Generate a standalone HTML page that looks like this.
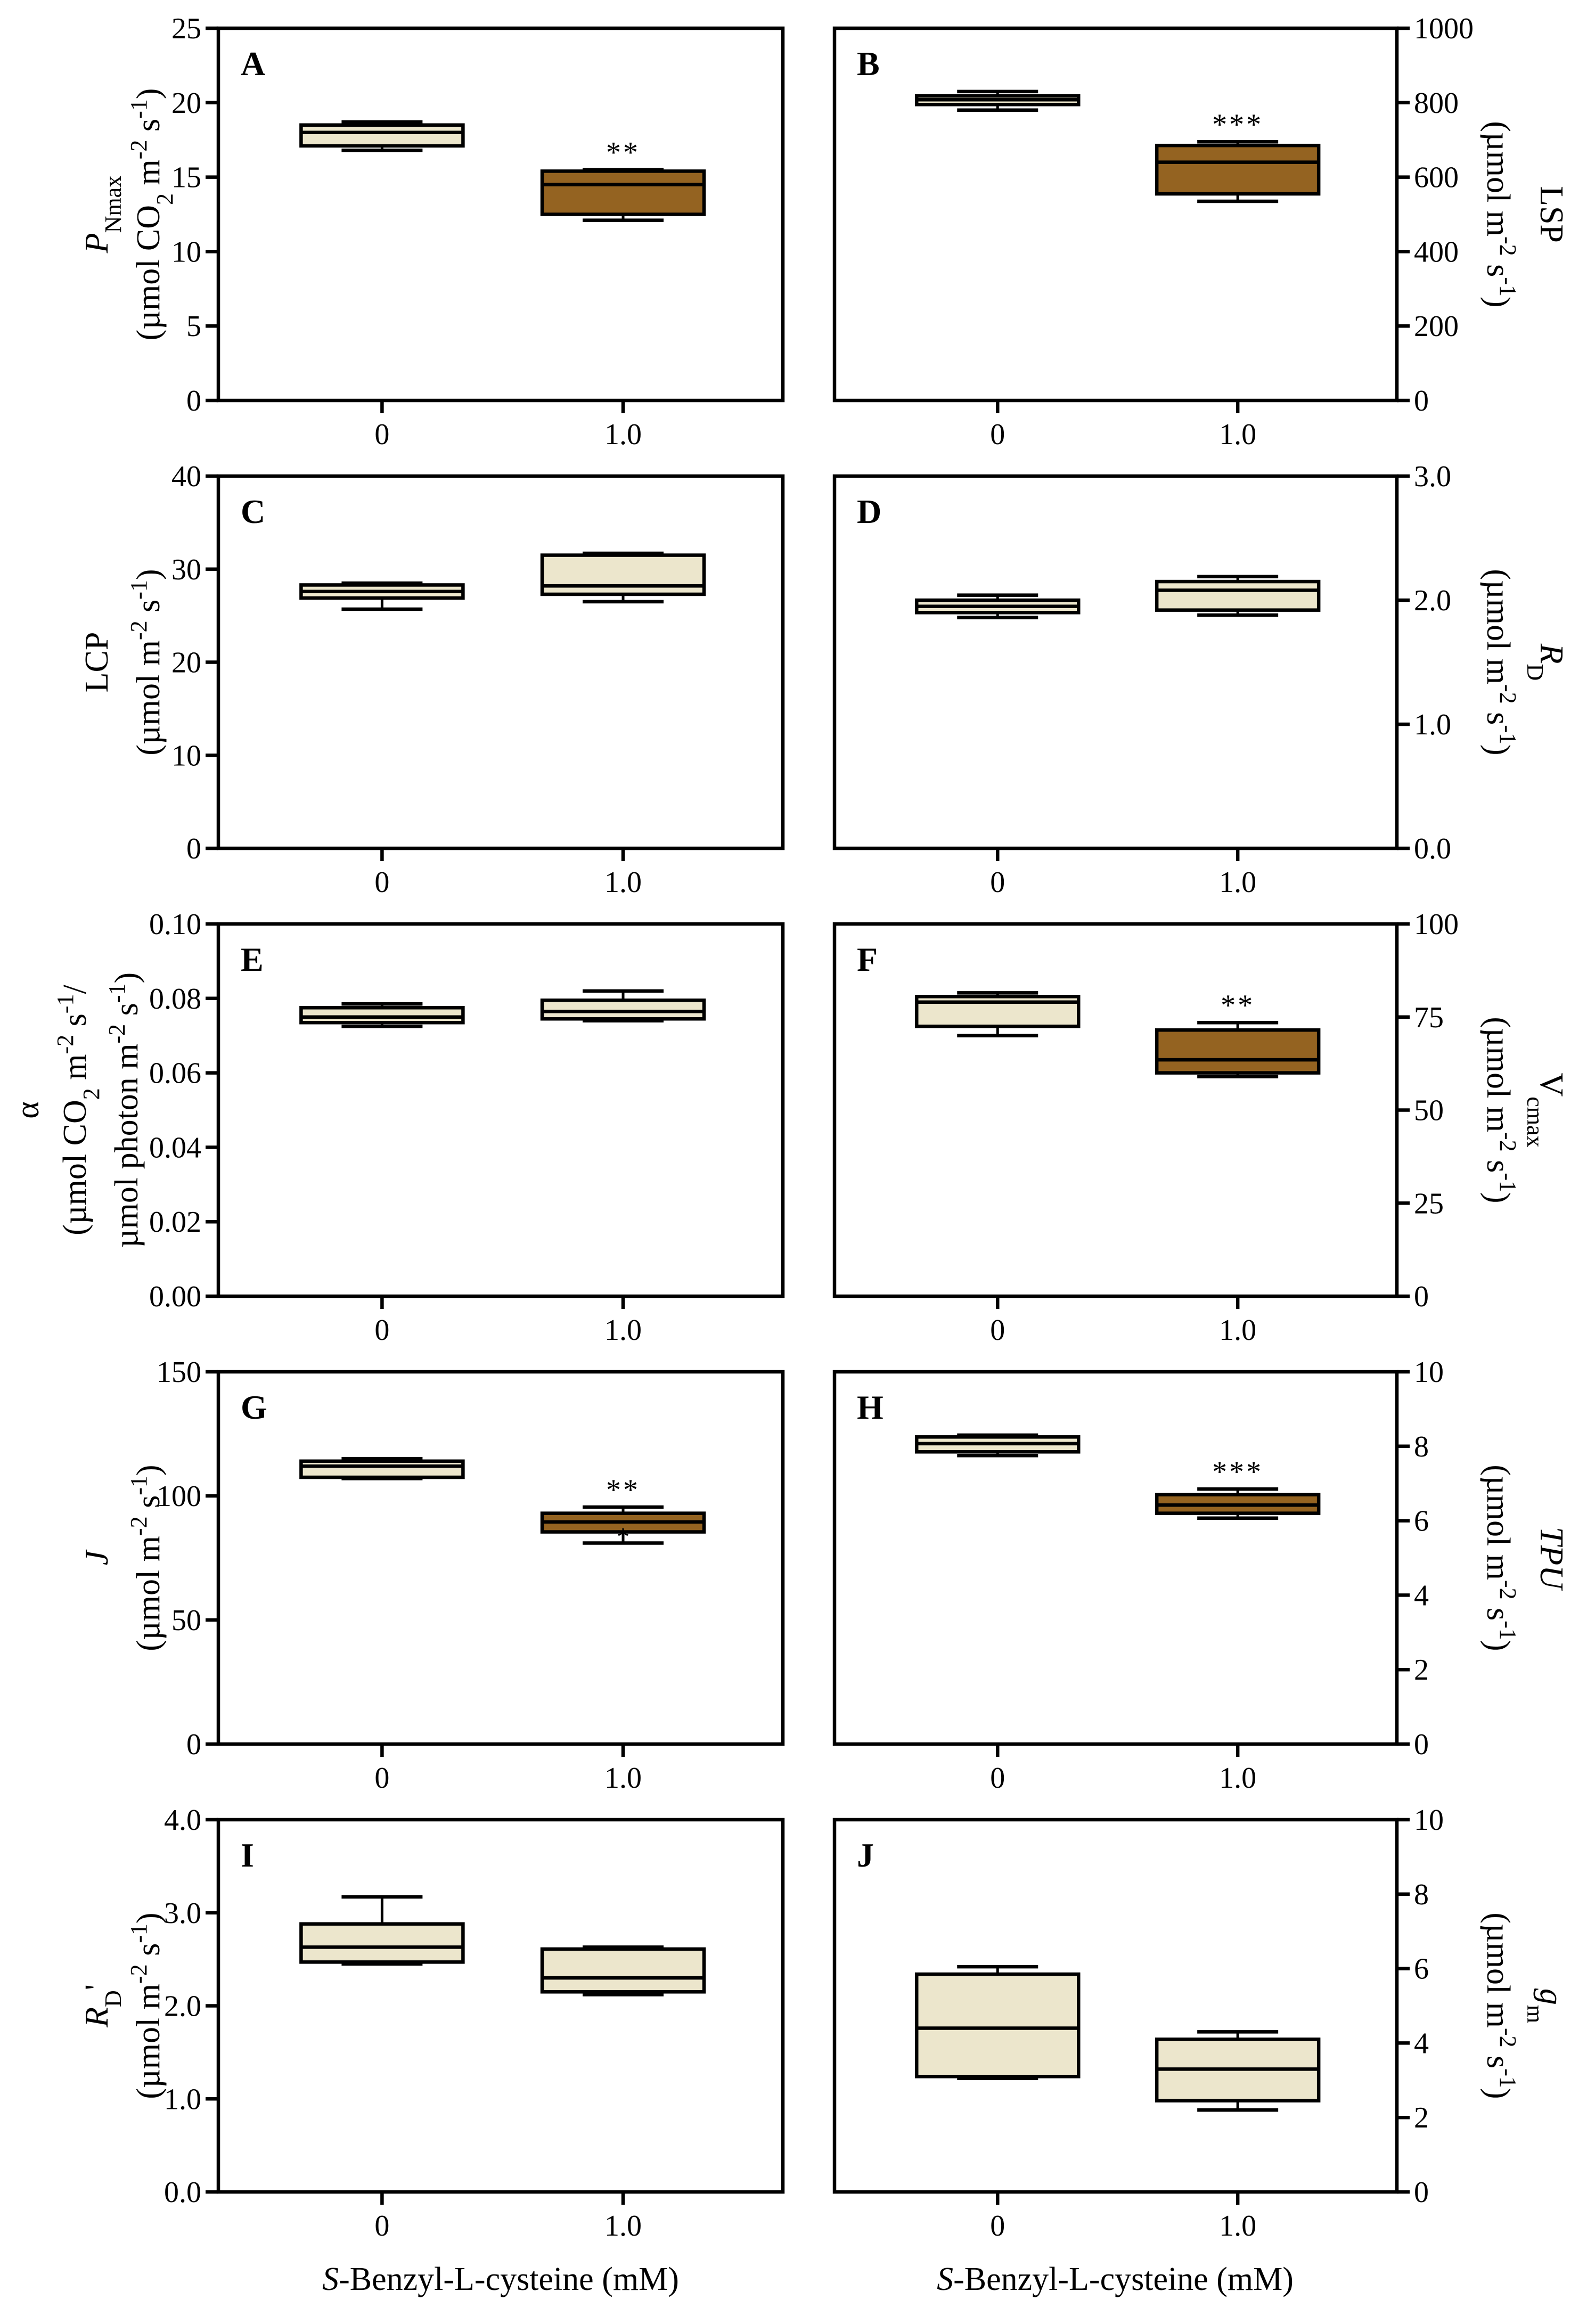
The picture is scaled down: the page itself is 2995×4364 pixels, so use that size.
<!DOCTYPE html>
<html><head><meta charset="utf-8">
<style>
html,body{margin:0;padding:0;background:#fff;}
svg{display:block;font-family:"Liberation Serif",serif;}
</style></head>
<body>
<svg id="fig" width="2995" height="4364" viewBox="0 0 2995 4364" xmlns="http://www.w3.org/2000/svg"></svg>
<script>
// ---- data ----
const categories = ["0", "1.0"];
const panelLetters = ["A","B","C","D","E","F","G","H","I","J"];
const yMax = [25, 1000, 40, 3, 0.1, 100, 150, 10, 4, 10];
const yTicks = [
  [0,5,10,15,20,25],[0,200,400,600,800,1000],[0,10,20,30,40],[0,1,2,3],
  [0,0.02,0.04,0.06,0.08,0.1],[0,25,50,75,100],[0,50,100,150],[0,2,4,6,8,10],
  [0,1,2,3,4],[0,2,4,6,8,10]];
const tickDecimals = [0,0,0,1,2,0,0,0,1,0];
// per panel: [whiskerLow, q1, median, q3, whiskerHigh]
const ctrlStats = [
  [16.8,17.1,18.0,18.5,18.7],[780,795,808,818,830],[25.7,26.9,27.6,28.3,28.5],
  [1.86,1.90,1.95,2.00,2.04],[0.0725,0.0735,0.075,0.0775,0.0785],[70,72.5,79,80.5,81.5],
  [107,107.5,112,114,115],[7.75,7.85,8.07,8.25,8.3],[2.45,2.47,2.63,2.88,3.17],[3.05,3.1,4.4,5.85,6.05]];
const trtStats = [
  [12.1,12.5,14.5,15.4,15.5],[535,555,640,685,695],[26.5,27.3,28.2,31.5,31.7],
  [1.88,1.92,2.08,2.15,2.19],[0.074,0.0745,0.0765,0.0795,0.082],[59,60,63.5,71.5,73.5],
  [81,85.5,89.5,93,95.5],[6.07,6.2,6.42,6.7,6.85],[2.12,2.15,2.3,2.61,2.63],[2.2,2.45,3.3,4.1,4.3]];
const trtDark = [true,true,false,false,false,true,true,true,false,false];
const signif = ["**","***","","","","**","**","***","",""];

// ---- layout ----
const NS="http://www.w3.org/2000/svg";
const svg=document.getElementById('fig');
const rowTop=[53,894,1735,2576,3417], rowH=699;
const colX=[[410,1470],[1567,2623]];
const catFrac=[0.29,0.717];
const LIGHT="#ece6cc", DARK="#946321";
const SW=6.5;
function el(tag,attrs,parent){const e=document.createElementNS(NS,tag);for(const k in attrs)e.setAttribute(k,attrs[k]);(parent||svg).appendChild(e);return e;}

const sup='font-size="44" baseline-shift="super"';
const sub='font-size="44" baseline-shift="sub"';
const unit2='(µmol m<tspan '+sup+'>-2</tspan> s<tspan '+sup+'>-1</tspan>)';
const titles=[
  ['<tspan font-style="italic">P</tspan><tspan '+sub+'>Nmax</tspan>','(µmol CO<tspan '+sub+'>2</tspan> m<tspan '+sup+'>-2</tspan> s<tspan '+sup+'>-1</tspan>)'],
  ['LSP',unit2],
  ['LCP',unit2],
  ['<tspan font-style="italic">R</tspan><tspan '+sub+'>D</tspan>',unit2],
  ['α','(µmol CO<tspan '+sub+'>2</tspan> m<tspan '+sup+'>-2</tspan> s<tspan '+sup+'>-1</tspan>/','µmol photon m<tspan '+sup+'>-2</tspan> s<tspan '+sup+'>-1</tspan>)'],
  ['V<tspan '+sub+'>cmax</tspan>',unit2],
  ['<tspan font-style="italic">J</tspan>',unit2],
  ['<tspan font-style="italic">TPU</tspan>',unit2],
  ['<tspan font-style="italic">R</tspan><tspan '+sub+'>D</tspan>\'',unit2],
  ['<tspan font-style="italic">g</tspan><tspan '+sub+'>m</tspan>',unit2]];

for(let p=0;p<10;p++){
  const col=p%2,row=Math.floor(p/2);
  const x0=colX[col][0],x1=colX[col][1],yT=rowTop[row],yB=yT+rowH;
  const g=el('g',{});
  
  
  const ys=v=>yB-v/yMax[p]*rowH;
  const xs=i=>x0+catFrac[i]*(x1-x0);
  const frame=el('rect',{x:x0,y:yT,width:x1-x0,height:rowH,fill:'none',stroke:'#000','stroke-width':SW},g);
  
  
  const ax=col===0?x0:x1, dir=col===0?-1:1;
  yTicks[p].forEach(t=>{
    const y=ys(t);
    const tk=el('line',{x1:ax,x2:ax+dir*24,y1:y,y2:y,stroke:'#000','stroke-width':SW},g);
    
    
    const lb=el('text',{x:ax+dir*32,y:y+19,'font-size':56,'text-anchor':col===0?'end':'start'},g);
    lb.textContent=t.toFixed(tickDecimals[p]);
    
    
  });
  categories.forEach((c,i)=>{
    const x=xs(i);
    const tk=el('line',{x1:x,x2:x,y1:yB,y2:yB+24,stroke:'#000','stroke-width':SW},g);
    
    
    const lb=el('text',{x:x,y:yB+82,'font-size':56,'text-anchor':'middle'},g);
    lb.textContent=c;
    
    
  });
  [ctrlStats[p],trtStats[p]].forEach((s,i)=>{
    const cx=xs(i),hw=152,cw=76;
    const bg=el('g',{},g);
    
    
    el('line',{x1:cx,x2:cx,y1:ys(s[0]),y2:ys(s[1]),stroke:'#000','stroke-width':5},bg);
    el('line',{x1:cx,x2:cx,y1:ys(s[3]),y2:ys(s[4]),stroke:'#000','stroke-width':5},bg);
    el('line',{x1:cx-cw,x2:cx+cw,y1:ys(s[0]),y2:ys(s[0]),stroke:'#000','stroke-width':SW},bg);
    el('line',{x1:cx-cw,x2:cx+cw,y1:ys(s[4]),y2:ys(s[4]),stroke:'#000','stroke-width':SW},bg);
    const fill=(i===1&&trtDark[p])?DARK:LIGHT;
    el('rect',{x:cx-hw,y:ys(s[3]),width:2*hw,height:ys(s[1])-ys(s[3]),fill:fill,stroke:'#000','stroke-width':SW},bg);
    el('line',{x1:cx-hw,x2:cx+hw,y1:ys(s[2]),y2:ys(s[2]),stroke:'#000','stroke-width':SW},bg);
  });
  if(signif[p]){
    const st=el('text',{x:xs(1),y:ys(trtStats[p][4])-14,'font-size':56,'text-anchor':'middle','letter-spacing':4},g);
    st.textContent=signif[p];
    
    
  }
  if(p===6){
    const st2=el('text',{x:xs(1),y:ys(87)+32,'font-size':48,'text-anchor':'middle'},g);
    st2.textContent='*';
    
    
  }
  const lt=el('text',{x:x0+42,y:yT+88,'font-size':64,'font-weight':'bold'},g);
  lt.textContent=panelLetters[p];
  
  
  const cy=yT+rowH/2;
  const lines=titles[p];
  let xsPos;
  if(col===0) xsPos = lines.length===3?[50,139,236]:[180,277];
  else xsPos=[2915,2815];
  lines.forEach((ln,k)=>{
    const x=xsPos[k];
    const t=el('text',{'font-size':62,'text-anchor':'middle',
      transform: col===0?`translate(${x+22},${cy}) rotate(-90)`:`translate(${x-22},${cy}) rotate(90)`},g);
    t.innerHTML=ln;
    
    
  });
}
[[940],[2094]].forEach(a=>{
  const t=el('text',{x:a[0],y:4300,'font-size':62,'text-anchor':'middle'});
  t.innerHTML='<tspan font-style="italic">S</tspan>-Benzyl-L-cysteine (mM)';
  
  
});
</script>
</body></html>
